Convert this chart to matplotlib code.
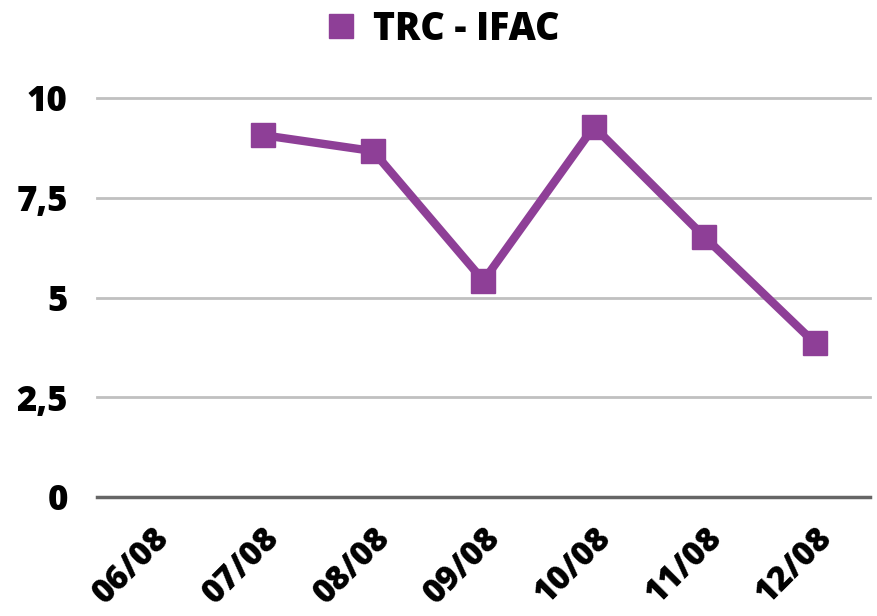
import matplotlib
matplotlib.use("Agg")
import matplotlib.pyplot as plt
import numpy as np

# dados
datas = ["06/08", "07/08", "08/08", "09/08", "10/08", "11/08", "12/08"]
trc_ifac = [np.nan, 9.07, 8.67, 5.42, 9.28, 6.52, 3.86]
yticks = [0, 2.5, 5, 7.5, 10]
ytick_labels = ["0", "2,5", "5", "7,5", "10"]

cor = "#8E3F97"
fonte = dict(family="Open Sans", weight="heavy")

fig = plt.figure(figsize=(8.77, 6.16), dpi=100)
ax = fig.add_axes([97/877, 1 - 497/616, (870-97)/877, (497-98)/616])

x = np.arange(len(datas))
ax.plot(x, trc_ifac, color=cor, lw=6, marker="s", ms=17, label="TRC - IFAC", zorder=3)

ax.set_xlim(-0.5, 6.5)
ax.set_ylim(0, 10)
ax.set_yticks(yticks)
ax.set_yticklabels(ytick_labels, fontsize=25, **fonte)
ax.set_xticks(x)
# rotulos inclinados, encostando na borda de baixo
ax.set_xticklabels(datas, fontsize=24, rotation=45, ha="right", rotation_mode="anchor", **fonte)
ax.tick_params(length=0)
ax.tick_params(axis="y", pad=21)
ax.tick_params(axis="x", pad=17)

for y in yticks[1:]:
    ax.axhline(y, color="#C0C0C0", lw=2, zorder=1)
ax.axhline(0, color="#666666", lw=2.5, zorder=2)
for s in ax.spines.values():
    s.set_visible(False)
for ln in ax.lines:
    ln.set_clip_on(False)

leg = fig.legend(loc="center", bbox_to_anchor=(450/877, 1 - 29/616), frameon=False,
                 prop=dict(family="Open Sans", weight="heavy", size=27),
                 handlelength=0, handletextpad=0.85, markerscale=1.0)
for h in leg.legend_handles:
    h.set_linestyle("none")

fig.savefig("out.png", dpi=100)
